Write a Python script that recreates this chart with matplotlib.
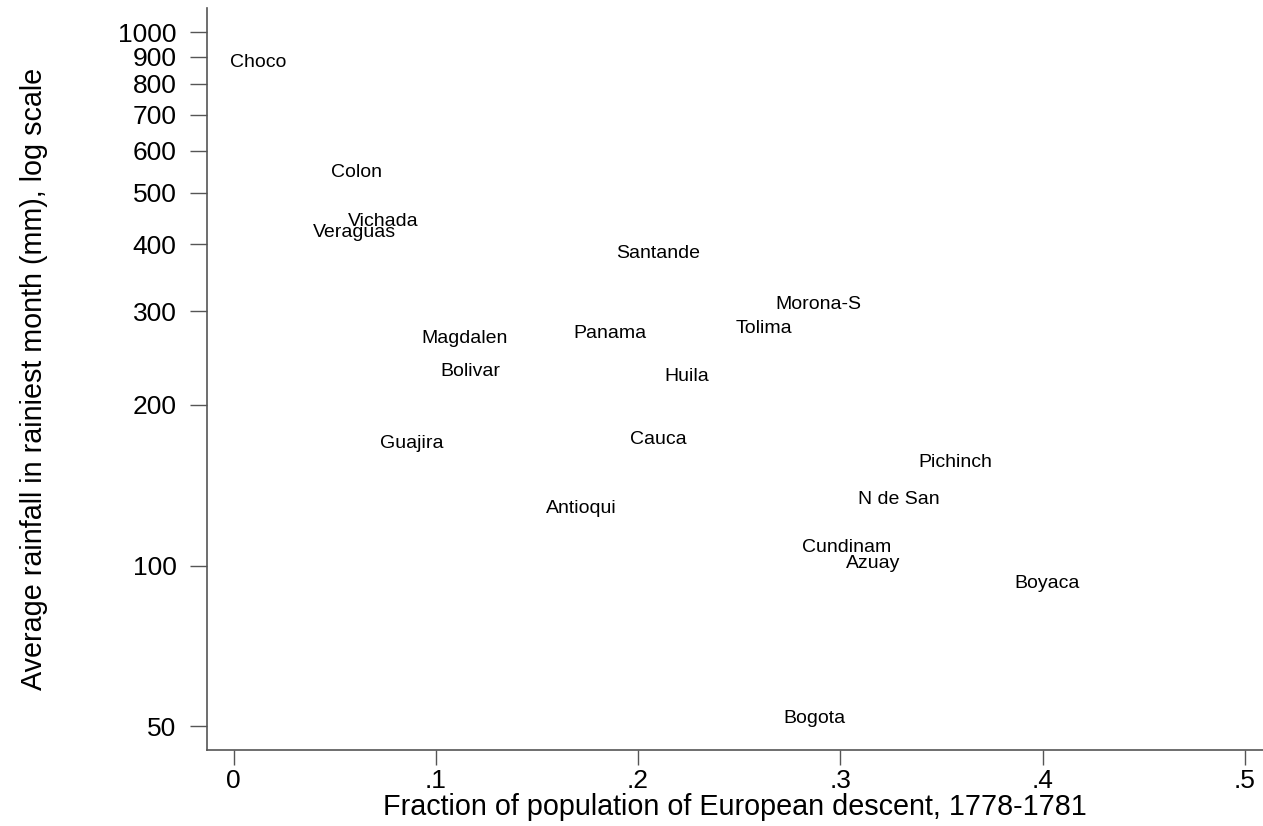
import matplotlib
matplotlib.use("Agg")
import matplotlib.pyplot as plt
from matplotlib.ticker import FixedLocator, FixedFormatter, NullLocator

plt.rcParams['font.family'] = ['Liberation Sans', 'DejaVu Sans']

regions = ["Choco", "Colon", "Vichada", "Veraguas", "Santande", "Morona-S", "Tolima",
           "Panama", "Magdalen", "Bolivar", "Huila", "Guajira", "Cauca", "Pichinch",
           "N de San", "Antioqui", "Cundinam", "Azuay", "Boyaca", "Bogota"]
european = [0.012, 0.061, 0.074, 0.060, 0.210, 0.289, 0.262,
            0.186, 0.114, 0.117, 0.224, 0.088, 0.210, 0.357,
            0.329, 0.172, 0.303, 0.316, 0.402, 0.287]
rainfall = [876, 545, 441, 422, 384, 308, 278,
            272, 267, 231, 226, 169, 172, 156,
            133, 128, 108, 101, 92.4, 51.6]

yticks = [50, 100, 200, 300, 400, 500, 600, 700, 800, 900, 1000]
xticks = [0, 0.1, 0.2, 0.3, 0.4, 0.5]
xticklabels = ["0", ".1", ".2", ".3", ".4", ".5"]

fig = plt.figure(figsize=(12.63, 8.26), dpi=100)
ax = fig.add_axes([207/1263, 1-750/826, 1-207/1263, (750-8)/826])
ax.set_yscale('log')
ax.set_xlim(-0.0131, 0.5089)
ax.set_ylim(45.1, 1110)

for name, xv, yv in zip(regions, european, rainfall):
    ax.text(xv, yv, name, ha='center', va='center', fontsize=14, color='black')

axis_col = '#555555'
ax.spines['top'].set_visible(False)
ax.spines['right'].set_visible(False)
for s in ['left', 'bottom']:
    ax.spines[s].set_color(axis_col)
    ax.spines[s].set_linewidth(1.2)

ax.yaxis.set_major_locator(FixedLocator(yticks))
ax.yaxis.set_major_formatter(FixedFormatter([str(v) for v in yticks]))
ax.yaxis.set_minor_locator(NullLocator())
ax.set_xticks(xticks)
ax.set_xticklabels(xticklabels)
ax.tick_params(axis='y', length=12, width=1.0, color=axis_col, labelsize=19, pad=10)
ax.tick_params(axis='x', length=11, width=1.0, color=axis_col, labelsize=19, pad=3)

ax.set_xlabel("Fraction of population of European descent, 1778-1781", fontsize=20.7, labelpad=0)
ax.set_ylabel("Average rainfall in rainiest month (mm), log scale", fontsize=20.7, labelpad=50)

fig.savefig("out.png", dpi=100)
